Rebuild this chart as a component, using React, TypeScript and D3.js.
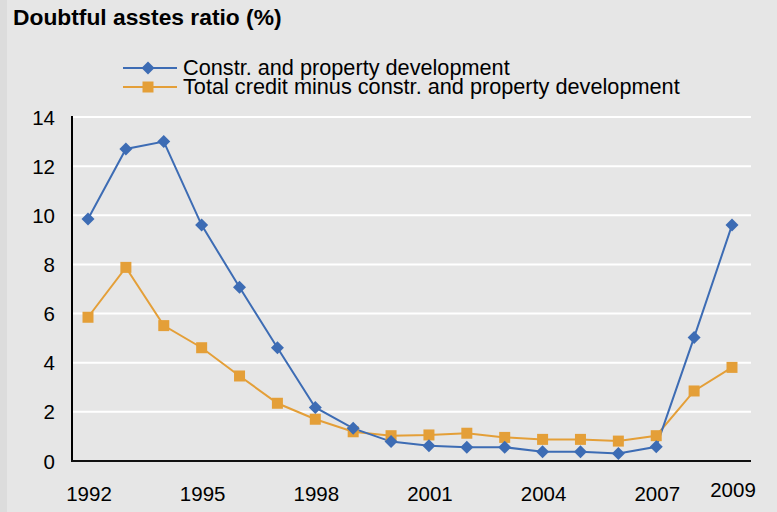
import React from "react";
import * as d3 from "d3";

const years = [1992, 1993, 1994, 1995, 1996, 1997, 1998, 1999, 2000, 2001, 2002, 2003, 2004, 2005, 2006, 2007, 2008, 2009];
const constrValues = [9.85, 12.7, 13.0, 9.6, 7.07, 4.61, 2.18, 1.33, 0.79, 0.62, 0.56, 0.56, 0.38, 0.38, 0.31, 0.58, 5.03, 9.6];
const otherValues = [5.85, 7.88, 5.51, 4.61, 3.46, 2.35, 1.7, 1.19, 1.03, 1.06, 1.13, 0.96, 0.88, 0.88, 0.81, 1.03, 2.85, 3.81];
const yTicks = [0, 2, 4, 6, 8, 10, 12, 14];
const xTickLabels = [1992, 1995, 1998, 2001, 2004, 2007, 2009];
const seriesNames = ["Constr. and property development", "Total credit minus constr. and property development"];
const title = "Doubtful asstes ratio (%)";

const W = 777;
const H = 512;
const BLUE = "#3d6cb4";
const ORANGE = "#e49f38";
const FONT = "'Liberation Sans', Arial, sans-serif";

export default function App() {
  const x = d3.scalePoint<number>().domain(years).range([88, 732]);
  const y = d3.scaleLinear().domain([0, 14]).range([461, 117]);
  const plotLeft = 72;
  const plotRight = 751;

  const line = d3
    .line<number>()
    .x((_, i) => x(years[i]) as number)
    .y((d) => y(d));

  const diamond = (cx: number, cy: number, r: number) =>
    `M${cx},${cy - r}L${cx + r},${cy}L${cx},${cy + r}L${cx - r},${cy}Z`;

  return (
    <svg
      width={W}
      height={H}
      style={{ position: "absolute", left: 0, top: 0, display: "block" }}
      fontFamily={FONT}
    >
      <rect x={0} y={0} width={W} height={H} fill="#e6e6e6" />
      <rect x={0} y={0} width={7} height={H} fill="#dcdcdc" />

      <text x={13} y={25} fontSize={22.8} fontWeight="bold" fill="#000">
        {title}
      </text>

      {/* legend */}
      <g>
        <line x1={123} x2={177} y1={68} y2={68} stroke={BLUE} strokeWidth={2} />
        <path d={diamond(148, 68, 6.5)} fill={BLUE} />
        <text x={183} y={75} fontSize={21.7} fill="#000">
          {seriesNames[0]}
        </text>
        <line x1={123} x2={177} y1={87} y2={87} stroke={ORANGE} strokeWidth={2} />
        <rect x={142.5} y={81.5} width={11} height={11} fill={ORANGE} />
        <text x={183} y={94} fontSize={21.7} fill="#000">
          {seriesNames[1]}
        </text>
      </g>

      {/* gridlines */}
      {yTicks
        .filter((t) => t > 0)
        .map((t) => (
          <line key={t} x1={plotLeft} x2={plotRight} y1={y(t)} y2={y(t)} stroke="#ffffff" strokeWidth={2} />
        ))}

      {/* axes */}
      <line x1={plotLeft} x2={plotLeft} y1={y(14) - 1} y2={y(0)} stroke="#000" strokeWidth={2} />
      <line x1={plotLeft - 1} x2={plotRight} y1={y(0)} y2={y(0)} stroke="#111" strokeWidth={2} />

      {yTicks.map((t) => (
        <text key={t} x={55} y={y(t) + 7.5} fontSize={20.5} textAnchor="end" fill="#000">
          {t}
        </text>
      ))}

      {xTickLabels.map((yr) => (
        <text
          key={yr}
          x={(x(yr) as number) + 1}
          y={yr === 2009 ? 497 : 501}
          fontSize={20.5}
          textAnchor="middle"
          fill="#000"
        >
          {yr}
        </text>
      ))}

      {/* series */}
      <path d={line(otherValues) || ""} fill="none" stroke={ORANGE} strokeWidth={2} />
      <path d={line(constrValues) || ""} fill="none" stroke={BLUE} strokeWidth={2} />

      {otherValues.map((v, i) => (
        <rect
          key={"o" + i}
          x={(x(years[i]) as number) - 5.5}
          y={y(v) - 5.5}
          width={11}
          height={11}
          fill={ORANGE}
        />
      ))}
      {constrValues.map((v, i) => (
        <path key={"c" + i} d={diamond(x(years[i]) as number, y(v), 6.5)} fill={BLUE} />
      ))}
    </svg>
  );
}
